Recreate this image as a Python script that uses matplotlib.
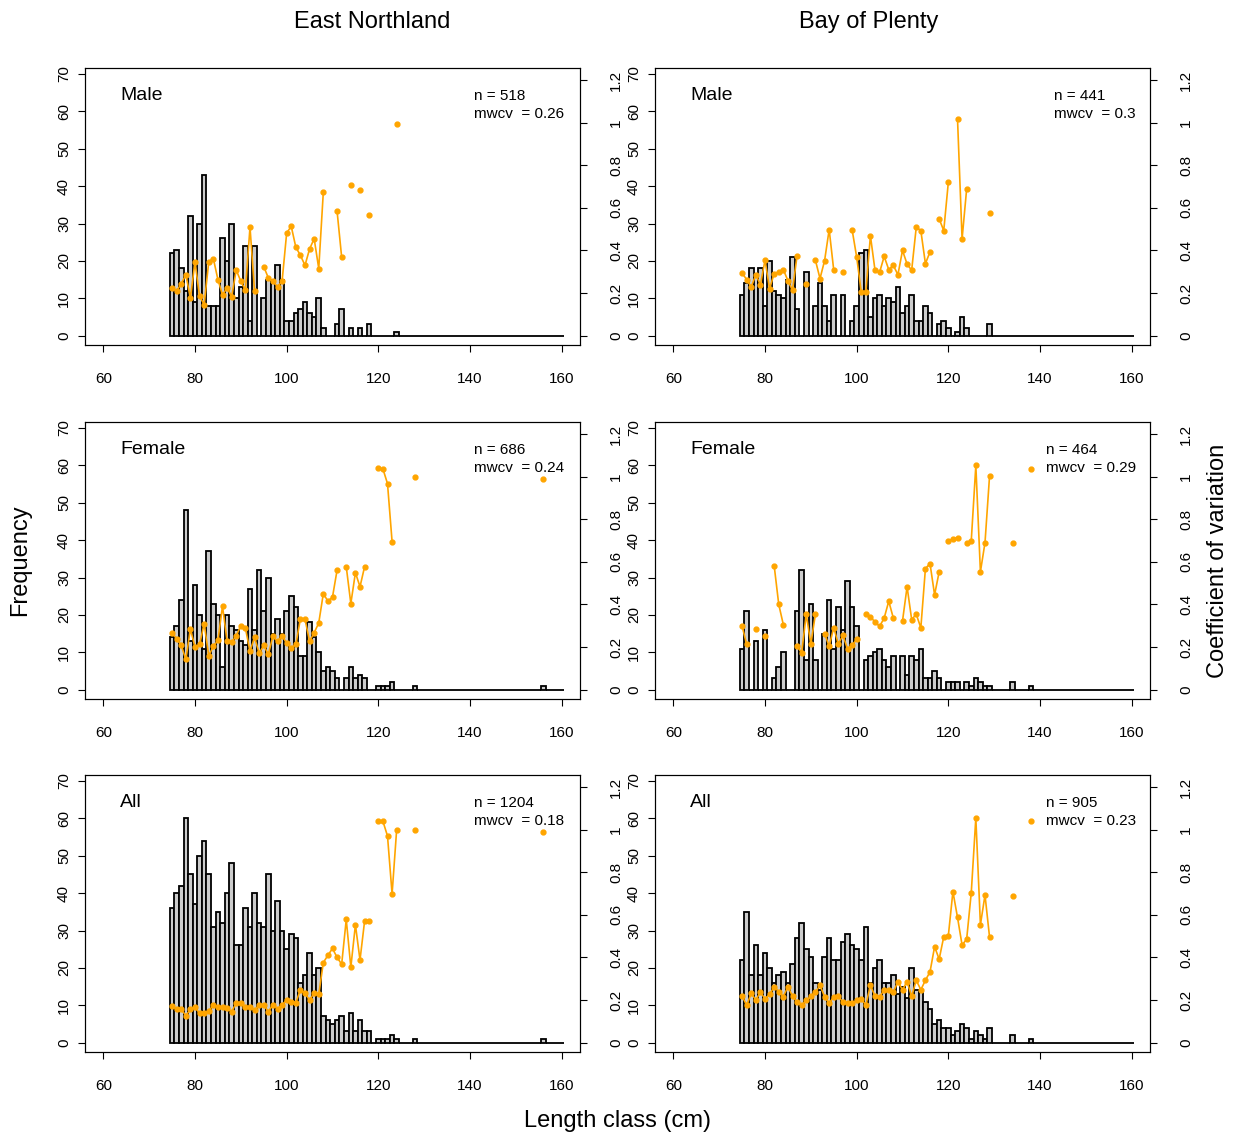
import numpy as np
import matplotlib
matplotlib.use("Agg")
import matplotlib.pyplot as plt
from matplotlib.ticker import FuncFormatter

plt.rcParams['font.family'] = ['Liberation Sans', 'DejaVu Sans']

# length classes (cm), one bar per class
length_classes = np.arange(75, 161)

regions = ['East Northland', 'Bay of Plenty']
groups = ['Male', 'Female', 'All']

# frequencies, listed from 75 cm upwards (missing tail = 0)
en_male_freq = [22, 23, 18, 12, 32, 9, 30, 43, 8, 8, 8, 26, 20, 30, 10, 13, 24, 4, 24, 0,
                10, 15, 15, 19, 15, 4, 4, 6, 7, 9, 6, 5, 10, 2, 0, 0, 3, 7, 0, 2,
                0, 2, 0, 3, 0, 0, 0, 0, 0, 1]
en_female_freq = [14, 17, 24, 48, 13, 28, 20, 11, 37, 23, 20, 6, 20, 17, 16, 13, 12, 27, 16, 32,
                  21, 30, 15, 19, 15, 21, 25, 22, 9, 9, 18, 14, 10, 5, 6, 5, 3, 0, 3, 6,
                  3, 4, 3, 0, 0, 1, 1, 1, 2, 0, 0, 0, 0, 1] + [0] * 27 + [1]
en_all_freq = [36, 40, 42, 60, 45, 37, 50, 54, 45, 31, 35, 32, 40, 48, 26, 26, 36, 31, 40, 32,
               31, 45, 30, 38, 30, 25, 29, 28, 16, 18, 24, 18, 20, 7, 6, 5, 6, 7, 3, 8,
               3, 6, 3, 3, 0, 1, 1, 1, 2, 1, 0, 0, 0, 1] + [0] * 27 + [1]
bop_male_freq = [11, 14, 18, 16, 18, 8, 20, 12, 11, 10, 15, 21, 7, 0, 17, 0, 8, 14, 8, 4,
                 11, 0, 11, 0, 4, 8, 22, 23, 5, 10, 11, 8, 10, 9, 13, 6, 8, 11, 4, 4,
                 8, 6, 0, 3, 4, 2, 0, 1, 5, 2, 0, 0, 0, 0, 3]
bop_female_freq = [11, 21, 0, 13, 0, 16, 0, 3, 6, 10, 0, 0, 21, 32, 8, 23, 8, 0, 15, 24,
                   11, 22, 16, 29, 22, 17, 0, 8, 9, 10, 11, 8, 6, 9, 0, 9, 4, 9, 8, 11,
                   3, 3, 5, 3, 0, 2, 2, 2, 0, 2, 1, 3, 2, 1, 1, 0, 0, 0, 0, 2,
                   0, 0, 0, 1]
bop_all_freq = [22, 35, 18, 26, 18, 24, 20, 16, 18, 19, 16, 21, 28, 32, 25, 23, 16, 14, 23, 28,
                22, 22, 27, 29, 26, 25, 22, 31, 16, 20, 22, 16, 16, 18, 13, 15, 12, 20, 14, 14,
                11, 9, 5, 6, 4, 4, 2, 3, 5, 4, 1, 3, 2, 1, 4, 0, 0, 0, 0, 2,
                0, 0, 0, 1]

# coefficient of variation per length class from 75 cm (None = no fish)
en_male_cv = [0.224, 0.211, 0.243, 0.286, 0.177, 0.346, 0.185, 0.146, 0.346, 0.362,
              0.263, 0.192, 0.224, 0.183, 0.308, 0.255, 0.214, 0.509, 0.208, None,
              0.324, 0.271, 0.255, 0.230, 0.255, 0.482, 0.513, 0.415, 0.377, 0.330,
              0.407, 0.455, 0.315, 0.675, None, None, 0.584, 0.368, None, 0.706,
              None, 0.682, None, 0.568, None, None, None, None, None, 0.994]
en_female_cv = [0.267, 0.239, 0.208, 0.142, 0.284, 0.200, 0.212, 0.310, 0.159, 0.204,
                0.231, 0.392, 0.228, 0.223, 0.253, 0.300, 0.288, 0.181, 0.245, 0.171,
                0.208, 0.165, 0.252, 0.226, 0.253, 0.218, 0.197, 0.212, 0.332, 0.330,
                0.228, 0.267, 0.313, 0.451, 0.415, 0.435, 0.561, None, 0.577, 0.404,
                0.549, 0.483, 0.577, None, None, 1.038, 1.036, 0.967, 0.695, None,
                None, None, None, 0.997] + [None] * 27 + [0.99]
en_all_cv = [0.171, 0.160, 0.156, 0.127, 0.156, 0.168, 0.137, 0.137, 0.148, 0.178,
             0.168, 0.168, 0.162, 0.146, 0.186, 0.186, 0.168, 0.168, 0.151, 0.179,
             0.178, 0.145, 0.179, 0.160, 0.176, 0.201, 0.192, 0.187, 0.249, 0.231,
             0.200, 0.234, 0.226, 0.376, 0.410, 0.442, 0.400, 0.368, 0.578, 0.354,
             0.553, 0.388, 0.570, 0.569, None, 1.039, 1.039, 0.970, 0.698, 1.0,
             None, None, None, 1.0] + [None] * 27 + [0.99]
bop_male_cv = [0.294, 0.263, 0.229, 0.286, 0.239, 0.354, 0.221, 0.291, 0.299, 0.310,
               0.258, 0.213, 0.376, None, 0.244, None, 0.354, 0.268, 0.352, 0.498,
               0.307, None, 0.299, None, 0.498, 0.369, 0.205, 0.205, 0.469, 0.307,
               0.297, 0.372, 0.310, 0.330, 0.286, 0.400, 0.336, 0.307, 0.509, 0.493,
               0.338, 0.393, None, 0.548, 0.493, 0.720, None, 1.019, 0.454, 0.689,
               None, None, None, None, 0.576]
bop_female_cv = [0.299, 0.212, None, 0.283, None, 0.252, None, 0.582, 0.400, 0.305,
                 None, None, 0.204, 0.173, 0.354, 0.214, 0.354, None, 0.263, 0.204,
                 0.291, 0.214, 0.255, 0.192, 0.208, 0.236, None, 0.354, 0.341, 0.318,
                 0.297, 0.336, 0.415, 0.336, None, 0.322, 0.483, 0.329, 0.354, 0.290,
                 0.568, 0.592, 0.445, 0.553, None, 0.698, 0.706, 0.714, None, 0.690,
                 0.698, 1.052, 0.553, 0.690, 1.005, None, None, None, None, 0.690,
                 None, None, None, 1.036]
bop_all_cv = [0.218, 0.176, 0.231, 0.200, 0.237, 0.206, 0.226, 0.263, 0.239, 0.216,
              0.263, 0.218, 0.190, 0.176, 0.198, 0.218, 0.237, 0.269, 0.216, 0.184,
              0.216, 0.218, 0.190, 0.184, 0.184, 0.198, 0.206, 0.176, 0.270, 0.218,
              0.216, 0.247, 0.247, 0.237, 0.286, 0.248, 0.287, 0.217, 0.293, 0.248,
              0.293, 0.332, 0.450, 0.392, 0.497, 0.502, 0.709, 0.588, 0.458, 0.486,
              0.703, 1.055, 0.553, 0.693, 0.494, None, None, None, None, 0.690,
              None, None, None, 1.039]

n_fish = [[518, 686, 1204], [441, 464, 905]]
mwcv = [['0.26', '0.24', '0.18'], ['0.3', '0.29', '0.23']]

freqs = [[en_male_freq, en_female_freq, en_all_freq],
         [bop_male_freq, bop_female_freq, bop_all_freq]]
cvs = [[en_male_cv, en_female_cv, en_all_cv],
       [bop_male_cv, bop_female_cv, bop_all_cv]]


def pad(values, fill):
    out = list(values) + [fill] * (len(length_classes) - len(values))
    return np.array([np.nan if v is None else v for v in out], dtype=float)


W, H = 1239, 1135
fig = plt.figure(figsize=(W / 100, H / 100), dpi=100)

col_left = [85, 655]
row_top = [68, 422, 775]
box_w, box_h = 495, 277
legend_x = [[474, 474, 474], [1054, 1046, 1046]]

ylim_f = (-2.5, 71.6)
cv_scale = 57.0

for c in range(2):
    for r in range(3):
        ax = fig.add_axes([col_left[c] / W, 1 - (row_top[r] + box_h) / H, box_w / W, box_h / H])
        f = pad(freqs[c][r], 0)
        cv = pad(cvs[c][r], None)
        ax.bar(length_classes, f, width=1.0, color='#cccccc', edgecolor='black', linewidth=1.3)
        ax.set_xlim(56, 164)
        ax.set_ylim(*ylim_f)
        ax.set_xticks(np.arange(60, 161, 20))
        ax.set_yticks(np.arange(0, 71, 10))
        ax.tick_params(axis='x', direction='out', length=5, width=0.8, labelsize=11, pad=14.5)
        ax.tick_params(axis='y', direction='out', length=5, width=0.8, labelsize=11, pad=5,
                       labelrotation=90)
        for lab in ax.get_yticklabels():
            lab.set_va('center')

        ax2 = ax.twinx()
        ax2.plot(length_classes, cv, color='orange', lw=1.2, marker='o', ms=3.5)
        ax2.set_ylim(ylim_f[0] / cv_scale, ylim_f[1] / cv_scale)
        ax2.set_yticks(np.arange(0, 1.21, 0.2))
        ax2.yaxis.set_major_formatter(FuncFormatter(lambda v, p: f'{v:g}'))
        ax2.tick_params(axis='y', direction='out', length=5, width=0.8, labelsize=11, pad=16,
                        labelrotation=90)
        for lab in ax2.get_yticklabels():
            lab.set_va('center')
        for a in (ax, ax2):
            for s in a.spines.values():
                s.set_linewidth(0.8)

        ax.text(35 / box_w, 1 - 27 / box_h, groups[r], transform=ax.transAxes,
                fontsize=14, va='center', ha='left')
        lx = (legend_x[c][r] - col_left[c]) / box_w
        ax.text(lx, 1 - 28 / box_h, f'n = {n_fish[c][r]}', transform=ax.transAxes,
                fontsize=11, va='center', ha='left')
        ax.text(lx, 1 - 46 / box_h, f'mwcv  = {mwcv[c][r]}', transform=ax.transAxes,
                fontsize=11, va='center', ha='left')

fig.text(372 / W, 1 - 22 / H, regions[0], fontsize=17, ha='center', va='center')
fig.text(869 / W, 1 - 22 / H, regions[1], fontsize=17, ha='center', va='center')
fig.text(20 / W, 1 - 560 / H, 'Frequency', fontsize=17, rotation=90, ha='center', va='center')
fig.text(1218 / W, 1 - 561 / H, 'Coefficient of variation', fontsize=17, rotation=90,
         ha='center', va='center')
fig.text(618 / W, 1 - 1121 / H, 'Length class (cm)', fontsize=17, ha='center', va='center')

fig.savefig('out.png', dpi=100)
